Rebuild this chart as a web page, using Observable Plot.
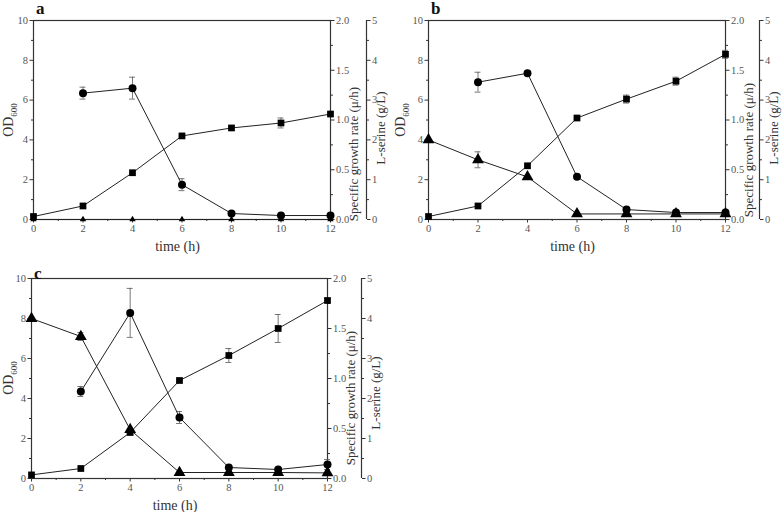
<!DOCTYPE html>
<html>
<head>
<meta charset="utf-8">
<script src="https://cdn.jsdelivr.net/npm/d3@7"></script>
<script src="https://cdn.jsdelivr.net/npm/@observablehq/plot@0.6"></script>
<style>
  body { margin: 0; background: #fff; }
  #root { position: relative; width: 784px; height: 512px; font-family: "Liberation Serif", "DejaVu Serif", serif; color: #333; overflow: hidden; }
  .panel { position: absolute; }
  .lbl { position: absolute; white-space: nowrap; font-size: 14px; color: #333; }
  .rot { transform: translate(-50%, -50%) rotate(-90deg); }
  .hc { transform: translate(-50%, -50%); }
  .letter { position: absolute; font-weight: bold; font-size: 17px; color: #111; }
  sub { font-size: 9px; }
</style>
</head>
<body>
<div id="root"></div>
<script>
// ---------- data ----------
const time = [0, 2, 4, 6, 8, 10, 12];
const xTicks = [0, 2, 4, 6, 8, 10, 12];
const xMinor = [1, 3, 5, 7, 9, 11];
const odTicks = [0, 2, 4, 6, 8, 10];
const odMinor = [1, 3, 5, 7, 9];
const muTicks = [0, 0.5, 1.0, 1.5, 2.0];
const muMinor = [0.25, 0.75, 1.25, 1.75];
const serTicks = [0, 1, 2, 3, 4, 5];
const serMinor = [0.5, 1.5, 2.5, 3.5, 4.5];

// panel a
const odA    = [0.15, 0.68, 2.35, 4.2, 4.6, 4.85, 5.3];
const odAErr = [0, 0, 0.05, 0.05, 0.05, 0.25, 0.05];
const muA    = [null, 1.27, 1.32, 0.35, 0.06, 0.04, 0.04];
const muAErr = [0, 0.06, 0.11, 0.06, 0, 0, 0];
const serA    = [0, 0, 0, 0, 0, 0, 0];
const serAErr = [0, 0, 0, 0, 0, 0, 0];

// panel b
const odB    = [0.15, 0.68, 2.7, 5.1, 6.05, 6.95, 8.3];
const odBErr = [0, 0, 0.05, 0.05, 0.2, 0.2, 0.2];
const muB    = [null, 1.38, 1.47, 0.43, 0.10, 0.07, 0.07];
const muBErr = [0, 0.1, 0, 0, 0, 0, 0];
const serB    = [2.0, 1.5, 1.07, 0.14, 0.14, 0.14, 0.14];
const serBErr = [0, 0.2, 0, 0, 0, 0, 0];

// panel c
const odC    = [0.18, 0.5, 2.3, 4.9, 6.15, 7.5, 8.9];
const odCErr = [0, 0, 0.05, 0.05, 0.35, 0.7, 0.1];
const muC    = [null, 0.87, 1.656, 0.61, 0.11, 0.09, 0.14];
const muCErr = [0, 0.05, 0.245, 0.06, 0, 0, 0.05];
const serC    = [4.0, 3.55, 1.22, 0.15, 0.15, 0.15, 0.14];
const serCErr = [0, 0.1, 0, 0, 0, 0, 0];

// scale factors onto the OD600 axis (0–10)
const MU_K = 10 / 2;   // 2.0 μ/h ↔ OD 10
const SER_K = 10 / 5;  // 5 g/L ↔ OD 10

const panels = [
  {letter: "a", left: 0, top: 0, mL: 33, mR: 62, mT: 20, mB: 37, dx2: 36, muOff: 34, serOff: 8,
   od: odA, odErr: odAErr, mu: muA, muErr: muAErr, ser: serA, serErr: serAErr, triR: 2.4},
  {letter: "b", left: 392, top: 0, mL: 36, mR: 59, mT: 20, mB: 37, dx2: 34, muOff: 30, serOff: 8,
   od: odB, odErr: odBErr, mu: muB, muErr: muBErr, ser: serB, serErr: serBErr, triR: 4.4},
  {letter: "c", left: 0, top: 256, mL: 31, mR: 65, mT: 22, mB: 34, dx2: 34, muOff: 20, serOff: 15,
   od: odC, odErr: odCErr, mu: muC, muErr: muCErr, ser: serC, serErr: serCErr, triR: 4.4}
];

const root = document.getElementById("root");
const W = 392, H = 256;
const axisColor = "#333";
const textColor = "#555";

function rows(vals, errs, k) {
  return time.map((t, i) => ({t, v: vals[i] == null ? null : vals[i] * k, e: (errs[i] || 0) * k}))
             .filter(d => d.v != null);
}

function errMarks(data) {
  const withErr = data.filter(d => d.e > 0);
  return [
    Plot.ruleX(withErr, {x: "t", y1: d => d.v - d.e, y2: d => d.v + d.e, stroke: "#555", strokeWidth: 0.8}),
    Plot.ruleY(withErr, {x1: d => d.t - 0.12, x2: d => d.t + 0.12, y: d => d.v + d.e, stroke: "#555", strokeWidth: 0.8}),
    Plot.ruleY(withErr, {x1: d => d.t - 0.12, x2: d => d.t + 0.12, y: d => d.v - d.e, stroke: "#555", strokeWidth: 0.8})
  ];
}

panels.forEach(p => {
  const sq = rows(p.od, p.odErr, 1);
  const ci = rows(p.mu, p.muErr, MU_K);
  const tr = rows(p.ser, p.serErr, SER_K);
  const tickFont = {fontSize: 10.5, fill: textColor, fontFamily: "Liberation Serif"};
  const chart = Plot.plot({
    width: W, height: H,
    marginLeft: p.mL, marginRight: p.mR, marginTop: p.mT, marginBottom: p.mB,
    style: {fontFamily: "Liberation Serif", background: "transparent", overflow: "visible"},
    x: {domain: [0, 12]},
    y: {domain: [0, 10]},
    marks: [
      Plot.frame({stroke: axisColor, strokeWidth: 1.2}),
      // bottom axis
      Plot.axisX({ticks: xTicks, tickSize: 3.5, tickPadding: 2, label: null, stroke: axisColor, ...tickFont}),
      Plot.axisX({ticks: xMinor, tickSize: 2, tickFormat: () => "", label: null, stroke: axisColor}),
      // left OD axis
      Plot.axisY({ticks: odTicks, tickSize: 3.5, tickPadding: 2, label: null, stroke: axisColor, ...tickFont}),
      Plot.axisY({ticks: odMinor, tickSize: 2, tickFormat: () => "", label: null, stroke: axisColor}),
      // right: specific growth rate
      Plot.axisY({anchor: "right", ticks: muTicks.map(v => v * MU_K), tickFormat: d => (d / MU_K).toFixed(1),
                  tickSize: 3.5, tickPadding: 2, label: null, stroke: axisColor, ...tickFont}),
      Plot.axisY({anchor: "right", ticks: muMinor.map(v => v * MU_K), tickSize: 2, tickFormat: () => "", label: null, stroke: axisColor}),
      // second right: L-serine
      Plot.ruleX([12], {dx: p.dx2, stroke: axisColor, strokeWidth: 1.2}),
      Plot.axisY({anchor: "right", dx: p.dx2, ticks: serTicks.map(v => v * SER_K), tickFormat: d => String(d / SER_K),
                  tickSize: 3.5, tickPadding: 2, label: null, stroke: axisColor, ...tickFont}),
      Plot.axisY({anchor: "right", dx: p.dx2, ticks: serMinor.map(v => v * SER_K), tickSize: 2, tickFormat: () => "", label: null, stroke: axisColor}),
      // series
      ...errMarks(sq), ...errMarks(ci), ...errMarks(tr),
      Plot.line(sq, {x: "t", y: "v", stroke: "#222", strokeWidth: 1}),
      Plot.line(ci, {x: "t", y: "v", stroke: "#222", strokeWidth: 1}),
      Plot.line(tr, {x: "t", y: "v", stroke: "#222", strokeWidth: 1}),
      Plot.dot(tr, {x: "t", y: "v", symbol: "triangle", r: p.triR, fill: "#000", stroke: "none"}),
      Plot.dot(sq, {x: "t", y: "v", symbol: "square", r: 3.8, fill: "#000", stroke: "none"}),
      Plot.dot(ci, {x: "t", y: "v", symbol: "circle", r: 4, fill: "#000", stroke: "none"})
    ]
  });
  const wrap = document.createElement("div");
  wrap.className = "panel";
  wrap.style.left = p.left + "px";
  wrap.style.top = p.top + "px";
  wrap.appendChild(chart);
  root.appendChild(wrap);

  const plotL = p.left + p.mL, plotR = p.left + W - p.mR;
  const plotT = p.top + p.mT, plotB = p.top + H - p.mB;
  const midY = (plotT + plotB) / 2;

  const add = (html, cls, x, y, extra = "") => {
    const d = document.createElement("div");
    d.className = cls;
    d.innerHTML = html;
    d.style.left = x + "px";
    d.style.top = y + "px";
    if (extra) d.style.cssText += extra;
    root.appendChild(d);
  };
  add(p.letter, "letter", plotL + 3, p.top + (p.letter === "c" ? 9 : 0) - 1);
  add("OD<sub>600</sub>", "lbl rot", p.left + 10, midY);
  add("time (h)", "lbl hc", (plotL + plotR) / 2 - 4, plotB + 28);
  add("Specific growth rate (μ/h)", "lbl rot", plotR + 24, midY + p.muOff, "font-size:13px;");
  add("L-serine (g/L)", "lbl rot", plotR + p.dx2 + 15, midY + p.serOff, "font-size:13px;");
});
</script>
</body>
</html>
